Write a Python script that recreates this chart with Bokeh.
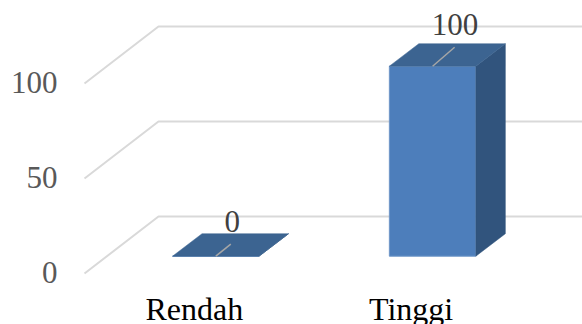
from bokeh.embed import file_html
from bokeh.resources import INLINE
from bokeh.core.properties import value
from bokeh.models import ColumnDataSource, FixedTicker, LinearAxis, Range1d
from bokeh.plotting import figure

categories = ["Rendah", "Tinggi"]
values = [0, 100]
y_ticks = [0, 50, 100]

WIDTH, HEIGHT = 582, 324
FRAME_LEFT = 60

# Pixel geometry of the pseudo-3D projection
PX_PER_VALUE = 1.9
PX_PER_CATEGORY = 216.8
FIRST_CENTRE_PX = 215.3
BASE_PX = 255.7
BAR_WIDTH_PX = 86.5
DEPTH_X, DEPTH_Y = 29.5, 22.5
WALL_LEFT_PX, WALL_BACK_PX = 84, 158
WALL_FRONT_DROP, WALL_BACK_RISE = 17.3, 39.7
AXIS_ZERO_PX = 271.5

x_range = Range1d((FRAME_LEFT - FIRST_CENTRE_PX) / PX_PER_CATEGORY,
                  (WIDTH - FIRST_CENTRE_PX) / PX_PER_CATEGORY)
y_range = Range1d((BASE_PX - HEIGHT) / PX_PER_VALUE, BASE_PX / PX_PER_VALUE)

p = figure(width=WIDTH, height=HEIGHT, x_range=x_range, y_range=y_range,
           x_axis_type=None, y_axis_type=None, output_backend="svg",
           toolbar_location=None, min_border_left=FRAME_LEFT,
           min_border_right=0, min_border_top=0, min_border_bottom=0,
           outline_line_color=None)
p.grid.visible = False

dx = lambda px: px / PX_PER_CATEGORY
dy = lambda px: px / PX_PER_VALUE
col = lambda px: (px - FIRST_CENTRE_PX) / PX_PER_CATEGORY

# Value axis sits on the front edge of the wall
p.extra_y_ranges["wall"] = Range1d((AXIS_ZERO_PX - HEIGHT) / PX_PER_VALUE,
                                   AXIS_ZERO_PX / PX_PER_VALUE)
y_axis = LinearAxis(y_range_name="wall", ticker=FixedTicker(ticks=y_ticks))
y_axis.axis_line_color = None
y_axis.major_tick_line_color = None
y_axis.minor_tick_line_color = None
y_axis.major_tick_out = 0
y_axis.major_tick_in = 0
y_axis.major_label_standoff = 3
y_axis.major_label_text_font = "Liberation Serif"
y_axis.major_label_text_font_size = "31px"
y_axis.major_label_text_color = "#595959"
p.add_layout(y_axis, "left")

# Wall and back gridlines
p.multi_line(
    xs=[[col(WALL_LEFT_PX), col(WALL_BACK_PX), col(WIDTH)] for _ in y_ticks],
    ys=[[t - dy(WALL_FRONT_DROP), t + dy(WALL_BACK_RISE), t + dy(WALL_BACK_RISE)] for t in y_ticks],
    line_color="#d9d9d9", line_width=2)

# Boxes: front, side and top faces
half = dx(BAR_WIDTH_PX) / 2
ox, oy = dx(DEPTH_X), dy(DEPTH_Y)
positions = list(range(len(categories)))
p.patches(
    xs=[[i - half, i + half, i + half, i - half] for i in positions],
    ys=[[0, 0, v, v] for v in values],
    fill_color="#4d7ebb", line_color="#6f97c8", line_width=1)
p.patches(
    xs=[[i + half, i + half + ox, i + half + ox, i + half] for i in positions],
    ys=[[0, oy, v + oy, v] for v in values],
    fill_color="#31547d", line_color="#31547d", line_width=0.5)
p.patches(
    xs=[[i - half, i + half, i + half + ox, i - half + ox] for i in positions],
    ys=[[v, v, v + oy, v + oy] for v in values],
    fill_color="#3c6491", line_color="#3c6491", line_width=0.5)

# Leader lines and value labels
leader_px = [(15, 12), (22, 19)]
label_px = [(16.5, 35), (22.5, 42)]
p.segment(
    x0=positions, y0=values,
    x1=[i + dx(a) for i, (a, _) in zip(positions, leader_px)],
    y1=[v + dy(b) for v, (_, b) in zip(values, leader_px)],
    line_color="#a6a6a6", line_width=1.5)
labels = ColumnDataSource(dict(
    x=[i + dx(a) for i, (a, _) in zip(positions, label_px)],
    y=[v + dy(b) for v, (_, b) in zip(values, label_px)],
    text=[str(v) for v in values]))
p.text(x="x", y="y", text="text", source=labels, text_align="center",
       text_baseline="middle", text_font=value("Liberation Serif"),
       text_font_size="31px", text_color="#404040")

# Category names along the front edge of the floor
p.text(x=positions, y=[0] * len(categories), text=categories, x_offset=-21.5,
       y_offset=53, text_align="center", text_baseline="alphabetic",
       text_font=value("Liberation Serif"), text_font_size="32px",
       text_color="#000000")

open("out.html", "w").write(file_html(p, INLINE))
